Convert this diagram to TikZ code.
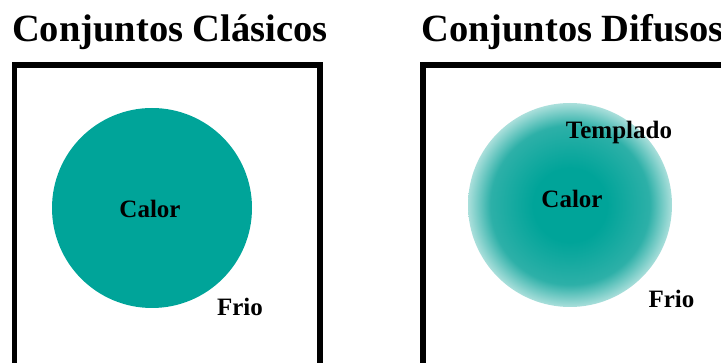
\documentclass[tikz,border=0pt]{standalone}
\usepackage{fontspec}
\setmainfont{Liberation Serif}
\definecolor{tealc}{RGB}{0,164,153}
\definecolor{tealmid}{RGB}{45,176,168}
\definecolor{tealedge}{RGB}{170,223,219}
\pgfdeclareradialshading{fuzzy}{\pgfpoint{0bp}{0bp}}{color(0bp)=(tealc); color(9bp)=(tealc); color(19.5bp)=(tealmid); color(25bp)=(tealedge); color(50bp)=(tealedge)}
\tikzset{
  title/.style={anchor=base west, inner sep=0pt, font=\fontsize{38.5}{40}\selectfont\bfseries},
  lab/.style={anchor=base, inner sep=0pt, font=\fontsize{25}{27}\selectfont\bfseries},
  frame/.style={draw=black, line width=5.5pt}
}
\begin{document}
\begin{tikzpicture}[x=1pt,y=-1pt]
\useasboundingbox (0,0) rectangle (721,363);
\clip (0,0) rectangle (721,363);
\node[title] (t1) at (12,42) {Conjuntos Clásicos};
\node[title] (t2) at (421,42) {Conjuntos Difusos};
\draw[frame] (14.5,400) -- (14.5,65) -- (320,65) -- (320,400);
\draw[frame] (423,400) -- (423,65) -- (760,65);
\node[circle, fill=tealc, inner sep=0pt, minimum size=200pt] (hard) at (152,208) {};
\node[circle, shade, shading=fuzzy, inner sep=0pt, minimum size=204pt] (soft) at (570,205) {};
\node[lab] (c1) at (150,218) {Calor};
\node[lab] (f1) at (240,316) {Frio};
\node[lab] (c2) at (572,208) {Calor};
\node[lab] (tp) at (619,139) {Templado};
\node[lab] (f2) at (671.5,308) {Frio};
\end{tikzpicture}
\end{document}
